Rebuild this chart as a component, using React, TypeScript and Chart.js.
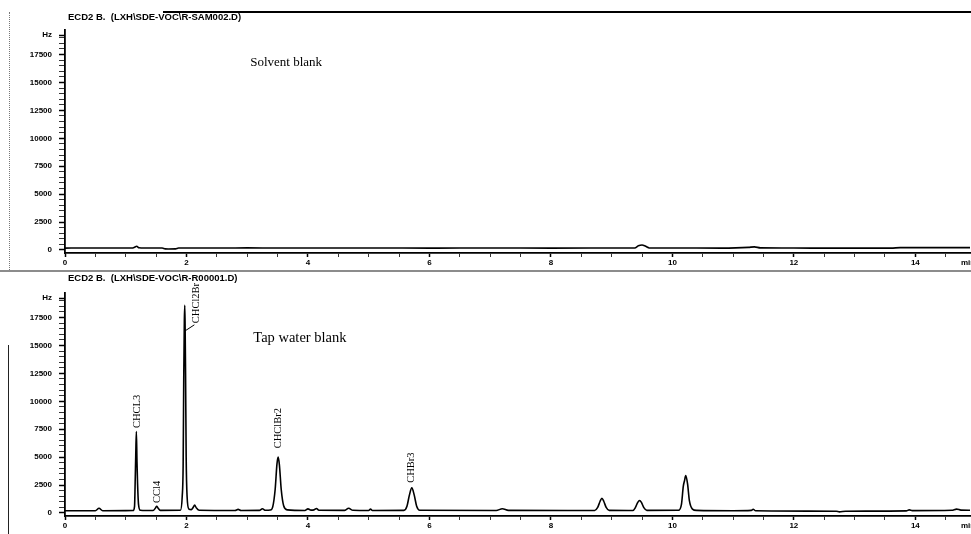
import React, { useEffect, useRef } from 'react';
import { Chart, registerables } from 'chart.js';

Chart.register(...registerables);

// ---- Data ----
const solventHeader = 'ECD2 B.  (LXH\\SDE-VOC\\R-SAM002.D)';
const tapHeader = 'ECD2 B.  (LXH\\SDE-VOC\\R-R00001.D)';

const xTickLabels = [0, 2, 4, 6, 8, 10, 12, 14];
const yTickLabels = [0, 2500, 5000, 7500, 10000, 12500, 15000, 17500];
const yUnit = 'Hz';
const xUnit = 'min';

const solventTime = [0, 0.3, 0.8, 1.1, 1.15, 1.18, 1.22, 1.3, 1.6, 1.65, 1.7, 1.82, 1.87, 2.2, 2.6, 3.0, 3.5, 4.0, 5.0, 6.0, 7.0, 8.0, 9.0, 9.38, 9.44, 9.5, 9.56, 9.62, 10.0, 10.8, 11.25, 11.35, 11.45, 12.0, 12.6, 13.0, 13.6, 13.75, 14.3, 14.9];
const solventSignal = [170, 180, 175, 175, 260, 330, 200, 180, 175, 100, 90, 100, 175, 180, 175, 185, 175, 180, 175, 170, 175, 170, 175, 180, 380, 450, 330, 180, 175, 170, 230, 280, 190, 175, 165, 170, 170, 210, 215, 215];

const tapTime = [0, 0.5, 0.56, 0.62, 1.12, 1.145, 1.155, 1.165, 1.175, 1.185, 1.195, 1.21, 1.24, 1.45, 1.49, 1.51, 1.53, 1.57, 1.9, 1.93, 1.945, 1.955, 1.965, 1.972, 1.978, 1.985, 1.995, 2.01, 2.04, 2.08, 2.11, 2.135, 2.16, 2.21, 2.8, 2.85, 2.9, 3.2, 3.25, 3.3, 3.38, 3.42, 3.46, 3.49, 3.51, 3.53, 3.56, 3.6, 3.66, 3.95, 4.0, 4.05, 4.1, 4.14, 4.18, 4.6, 4.67, 4.74, 5.0, 5.03, 5.06, 5.58, 5.63, 5.67, 5.71, 5.75, 5.79, 5.84, 7.1, 7.2, 7.3, 8.72, 8.77, 8.81, 8.84, 8.87, 8.91, 8.96, 9.35, 9.39, 9.43, 9.46, 9.49, 9.53, 9.58, 10.1, 10.15, 10.18, 10.2, 10.22, 10.25, 10.28, 10.33, 10.4, 11.0, 11.3, 11.33, 11.37, 12.7, 12.75, 12.85, 13.85, 13.9, 13.95, 14.6, 14.68, 14.75, 14.9];
const tapSignal = [200, 200, 420, 200, 220, 600, 2700, 5200, 7300, 4600, 2600, 800, 250, 220, 450, 600, 450, 230, 240, 1500, 4200, 12000, 17200, 18600, 16500, 12500, 5000, 1500, 350, 300, 500, 700, 480, 240, 220, 320, 220, 230, 380, 240, 260, 550, 2100, 4400, 5000, 4300, 2100, 650, 280, 220, 370, 260, 280, 400, 240, 230, 420, 240, 220, 350, 220, 230, 600, 1600, 2250, 1600, 600, 250, 220, 380, 230, 220, 500, 1050, 1320, 1050, 500, 230, 220, 480, 950, 1120, 950, 480, 230, 240, 800, 2400, 2900, 3350, 2600, 1100, 350, 230, 200, 230, 330, 200, 160, 100, 160, 190, 280, 210, 240, 350, 260, 250];

const peakNames = ['CHCL3', 'CCl4', 'CHCl2Br', 'CHClBr2', 'CHBr3'];
const peakLabelTime = [1.186, 1.515, 2.16, 3.51, 5.70];
const peakLabelBase = [7600, 900, 17000, 5800, 2700];

const solventNote = 'Solvent blank';
const tapNote = 'Tap water blank';

// ---- Axis setup ----
const X_MIN = 0;
const X_MAX = 14.9;
const Y_MIN = -270;
const Y_MAX = 19700;
const HZ_VALUE = 19250;

const xTickValues: number[] = [];
for (let v = 0; v <= 14.5; v += 0.5) xTickValues.push(v);
const yTickValues: number[] = [];
for (let v = 0; v <= 19000; v += 500) yTickValues.push(v);
yTickValues.push(HZ_VALUE);

const tickFont = { family: '"Liberation Sans", Arial, sans-serif', size: 8, weight: 'bold' as const };

type Note = { text: string; x: number; y: number; size: number };

function makeConfig(times: number[], signal: number[], padTop: number, header: string, headerY: number, note: Note, withPeaks: boolean) {
  const annot = {
    id: 'annot',
    afterDraw(chart: any) {
      const ctx = chart.ctx;
      const xs = chart.scales.x;
      const ys = chart.scales.y;
      const area = chart.chartArea;
      ctx.save();
      ctx.fillStyle = '#000';
      // header
      ctx.font = 'bold 9.5px "Liberation Sans", Arial, sans-serif';
      ctx.textBaseline = 'middle';
      ctx.textAlign = 'left';
      ctx.fillText(header, area.left + 3, headerY);
      // note
      ctx.font = `${note.size}px "Liberation Serif", "Times New Roman", serif`;
      ctx.fillText(note.text, xs.getPixelForValue(note.x), ys.getPixelForValue(note.y));
      // unit on x axis
      ctx.font = 'bold 8px "Liberation Sans", Arial, sans-serif';
      ctx.textBaseline = 'top';
      ctx.fillText(xUnit, xs.getPixelForValue(14.75), area.bottom + 6);
      if (withPeaks) {
        ctx.font = '10.5px "Liberation Serif", "Times New Roman", serif';
        ctx.textBaseline = 'middle';
        ctx.textAlign = 'left';
        peakNames.forEach((name, i) => {
          const px = xs.getPixelForValue(peakLabelTime[i]);
          const py = ys.getPixelForValue(peakLabelBase[i]);
          ctx.save();
          ctx.translate(px, py);
          ctx.rotate(-Math.PI / 2);
          ctx.fillText(name, 0, 0);
          ctx.restore();
        });
        // connector for CHCl2Br
        ctx.strokeStyle = '#000';
        ctx.lineWidth = 1;
        ctx.beginPath();
        ctx.moveTo(xs.getPixelForValue(1.975), ys.getPixelForValue(16300));
        ctx.lineTo(xs.getPixelForValue(2.13), ys.getPixelForValue(16850));
        ctx.stroke();
      }
      ctx.restore();
    },
  };

  return {
    type: 'line' as const,
    data: {
      datasets: [
        {
          data: times.map((t, i) => ({ x: t, y: signal[i] })),
          borderColor: '#000',
          borderWidth: 1.6,
          pointRadius: 0,
          fill: false,
          cubicInterpolationMode: 'monotone' as const,
        },
      ],
    },
    options: {
      animation: false as const,
      responsive: false,
      devicePixelRatio: 1,
      layout: { padding: { top: padTop, right: 1, left: 0, bottom: 0 } },
      plugins: {
        legend: { display: false },
        tooltip: { enabled: false },
        title: { display: false },
      },
      scales: {
        x: {
          type: 'linear' as const,
          min: X_MIN,
          max: X_MAX,
          afterBuildTicks: (s: any) => {
            s.ticks = xTickValues.map((v) => ({ value: v }));
          },
          afterFit: (s: any) => {
            s.height = 18;
          },
          grid: {
            display: true,
            drawOnChartArea: false,
            tickLength: 4,
            tickColor: '#000',
            tickWidth: (c: any) => (c.tick && xTickLabels.includes(c.tick.value) ? 1.5 : 0.8),
          },
          border: { display: true, color: '#000', width: 1.8 },
          ticks: {
            autoSkip: false,
            maxRotation: 0,
            padding: 1,
            color: '#000',
            font: tickFont,
            callback: (v: any) => (xTickLabels.includes(v) ? String(v) : ''),
          },
        },
        y: {
          type: 'linear' as const,
          min: Y_MIN,
          max: Y_MAX,
          afterBuildTicks: (s: any) => {
            s.ticks = yTickValues.map((v) => ({ value: v }));
          },
          afterFit: (s: any) => {
            s.width = 65;
          },
          grid: {
            display: true,
            drawOnChartArea: false,
            tickLength: 6,
            tickColor: '#000',
            tickWidth: (c: any) => (c.tick && (yTickLabels.includes(c.tick.value) || c.tick.value === HZ_VALUE) ? 1.5 : 0.8),
          },
          border: { display: true, color: '#000', width: 1.8 },
          ticks: {
            autoSkip: false,
            padding: 7,
            color: '#000',
            font: tickFont,
            callback: (v: any) => (v === HZ_VALUE ? yUnit : yTickLabels.includes(v) ? String(v) : ''),
          },
        },
      },
    },
    plugins: [annot],
  };
}

export default function App() {
  const topRef = useRef<HTMLCanvasElement>(null);
  const botRef = useRef<HTMLCanvasElement>(null);

  useEffect(() => {
    const c1 = new Chart(
      topRef.current as HTMLCanvasElement,
      makeConfig(solventTime, solventSignal, 30, solventHeader, 17, { text: solventNote, x: 3.05, y: 16750, size: 13 }, false) as any
    );
    const c2 = new Chart(
      botRef.current as HTMLCanvasElement,
      makeConfig(tapTime, tapSignal, 22, tapHeader, 7, { text: tapNote, x: 3.1, y: 15670, size: 14.5 }, true) as any
    );
    return () => {
      c1.destroy();
      c2.destroy();
    };
  }, []);

  return (
    <div style={{ position: 'fixed', left: 0, top: 0, width: 971, height: 534, background: '#fff', overflow: 'hidden' }}>
      <canvas ref={topRef} width={971} height={271} style={{ position: 'absolute', left: 0, top: 0, width: 971, height: 271 }} />
      <canvas ref={botRef} width={971} height={263} style={{ position: 'absolute', left: 0, top: 271, width: 971, height: 263 }} />
      <div style={{ position: 'absolute', left: 0, top: 270, width: 971, height: 2, background: '#8c8c8c' }} />
      <div style={{ position: 'absolute', left: 163, top: 11, width: 808, height: 2, background: '#000' }} />
      <div style={{ position: 'absolute', left: 9, top: 12, width: 0, height: 258, borderLeft: '1px dotted #777' }} />
      <div style={{ position: 'absolute', left: 8, top: 345, width: 0, height: 189, borderLeft: '1px solid #222' }} />
    </div>
  );
}
